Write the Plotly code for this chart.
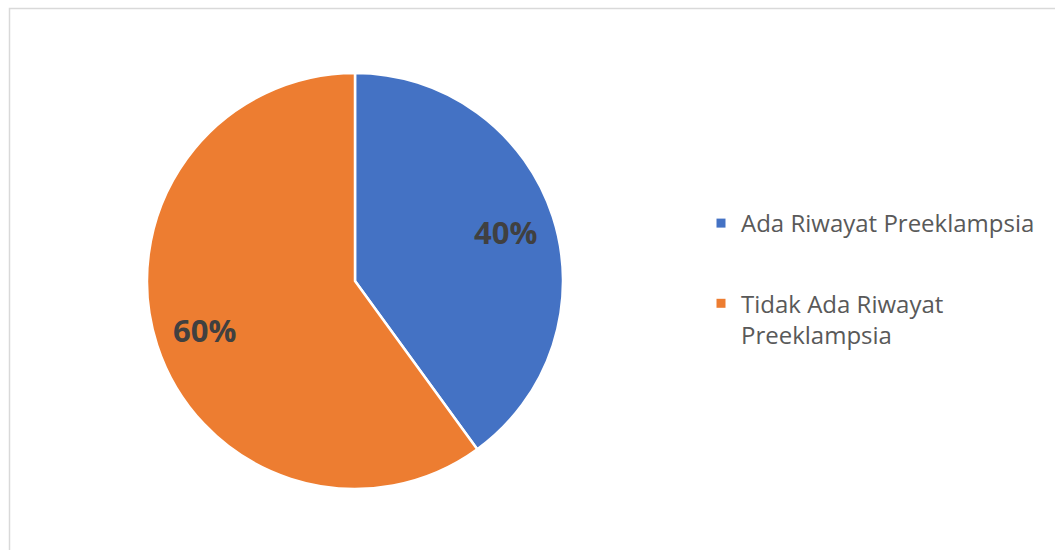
import math
import plotly.graph_objects as go

# Data
labels = ["Ada Riwayat Preeklampsia", "Tidak Ada Riwayat Preeklampsia"]
legend_text = ["Ada Riwayat Preeklampsia", "Tidak Ada Riwayat<br>Preeklampsia"]
values = [40, 60]
colors = ["#4472C4", "#ED7D31"]

W, H = 1055, 550
cx, cy, R = 355, 281, 208  # pie centre and radius in pixels

fig = go.Figure()

fig.add_trace(go.Pie(
    labels=labels,
    values=values,
    sort=False,
    direction="clockwise",
    rotation=0,
    marker=dict(colors=colors, line=dict(color="white", width=2.5)),
    textinfo="none",
    hoverinfo="label+percent",
    showlegend=False,
    domain=dict(x=[(cx - R) / W, (cx + R) / W], y=[1 - (cy + R) / H, 1 - (cy - R) / H]),
))

# Legend entries (square swatches), one group per category
for i, (name, col) in enumerate(zip(legend_text, colors)):
    fig.add_trace(go.Scatter(
        x=[None], y=[None], mode="markers", name=name,
        marker=dict(symbol="square", size=9, color=col),
        legendgroup=f"g{i}", showlegend=True,
    ))

# Percentage labels placed along each slice's mid-angle
total = sum(values)
cum = 0
annotations = []
for v in values:
    mid = (cum + v / 2) / total * 2 * math.pi
    cum += v
    px = cx + 0.76 * R * math.sin(mid)
    py = cy - 0.76 * R * math.cos(mid)
    annotations.append(dict(
        x=px / W, y=1 - py / H, xref="paper", yref="paper",
        text=f"<b>{round(v / total * 100)}%</b>", showarrow=False,
        font=dict(family="Open Sans", size=31, color="#404040"),
        xanchor="center", yanchor="middle",
    ))

fig.update_layout(
    width=W, height=H,
    margin=dict(l=0, r=0, t=0, b=0),
    paper_bgcolor="white",
    plot_bgcolor="white",
    xaxis=dict(visible=False),
    yaxis=dict(visible=False),
    annotations=annotations,
    legend=dict(
        x=701 / W, y=1 - 201 / H, xanchor="left", yanchor="top",
        font=dict(family="Open Sans", size=24, color="#595959"),
        tracegroupgap=46, valign="top", bgcolor="rgba(0,0,0,0)",
    ),
    shapes=[dict(
        type="rect", xref="paper", yref="paper",
        x0=9.5 / W, x1=1.02, y0=-0.02, y1=1 - 8.5 / H,
        line=dict(color="#D9D9D9", width=1.5), fillcolor="rgba(0,0,0,0)",
    )],
)

fig.write_html("out.html")
